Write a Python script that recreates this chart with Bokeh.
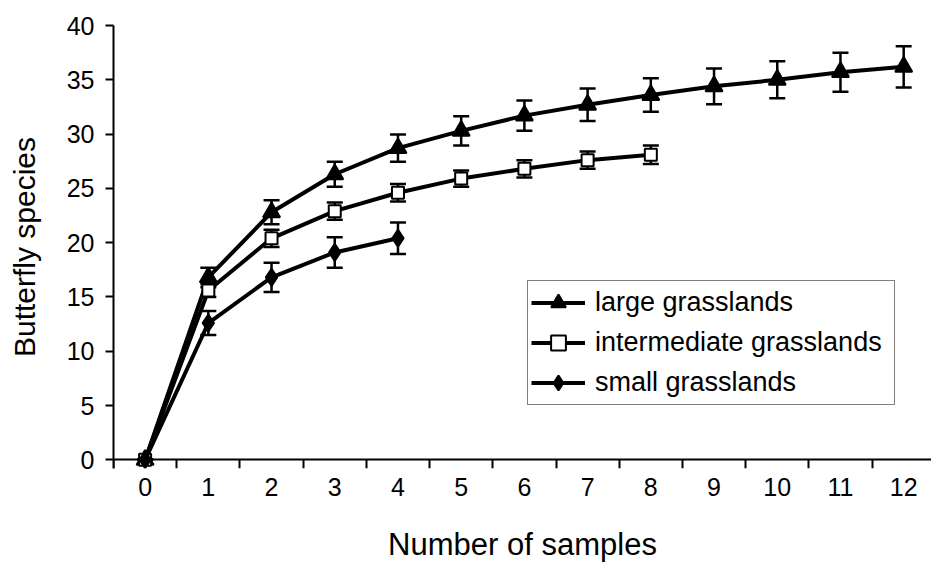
from bokeh.plotting import figure
from bokeh.models import (Range1d, FixedTicker, Legend, LegendItem, Whisker,
                          TeeHead, ColumnDataSource, LinearAxis)
from bokeh.embed import file_html
from bokeh.resources import INLINE

# ---- data ----
samples_large = [0, 1, 2, 3, 4, 5, 6, 7, 8, 9, 10, 11, 12]
large = [0, 16.8, 22.8, 26.3, 28.7, 30.3, 31.7, 32.7, 33.6, 34.4, 35.0, 35.7, 36.2]
large_err = [0, 0.9, 1.1, 1.15, 1.25, 1.35, 1.4, 1.5, 1.55, 1.65, 1.7, 1.8, 1.9]

samples_inter = [0, 1, 2, 3, 4, 5, 6, 7, 8]
inter = [0, 15.6, 20.4, 22.9, 24.6, 25.9, 26.8, 27.6, 28.1]
inter_err = [0, 0.6, 0.8, 0.8, 0.8, 0.75, 0.8, 0.8, 0.85]

samples_small = [0, 1, 2, 3, 4]
small = [0, 12.6, 16.8, 19.1, 20.4]
small_err = [0, 1.1, 1.35, 1.4, 1.45]

x_ticks = list(range(0, 13))
x_tick_marks = [k - 0.5 for k in range(0, 14)]
y_ticks = [0, 5, 10, 15, 20, 25, 30, 35, 40]

labels = ["large grasslands", "intermediate grasslands", "small grasslands"]
x_title = "Number of samples"
y_title = "Butterfly species"

FONT = "Liberation Sans"

p = figure(width=931, height=565, output_backend="svg", toolbar_location=None,
           x_range=Range1d(-0.5, 12.44), y_range=Range1d(-0.8, 40),
           min_border_left=113, min_border_right=0, min_border_top=25,
           min_border_bottom=97)
p.outline_line_color = None
p.xgrid.visible = False
p.ygrid.visible = False
p.background_fill_color = "white"
p.border_fill_color = "white"

# x axis: labels + title (below the frame, no line/ticks)
xa = p.xaxis[0]
xa.ticker = FixedTicker(ticks=x_ticks)
xa.axis_line_color = None
xa.major_tick_line_color = None
xa.minor_tick_line_color = None
xa.major_tick_out = 0
xa.major_tick_in = 0
xa.major_label_text_font = FONT
xa.major_label_text_font_size = "25px"
xa.major_label_text_color = "black"
xa.major_label_standoff = 9
xa.axis_label = x_title
xa.axis_label_text_font = FONT
xa.axis_label_text_font_size = "31px"
xa.axis_label_text_font_style = "normal"
xa.axis_label_text_color = "black"
xa.axis_label_standoff = 28

# x axis line with tick marks between categories, drawn at y = 0
xline = LinearAxis(fixed_location=0,
                   ticker=FixedTicker(ticks=[], minor_ticks=x_tick_marks),
                   major_tick_line_color=None,
                   minor_tick_in=9, minor_tick_out=0,
                   minor_tick_line_width=2, minor_tick_line_color="black",
                   axis_line_width=2, axis_line_color="black",
                   major_label_standoff=0)
p.add_layout(xline, "above")

# y axis
ya = p.yaxis[0]
ya.ticker = FixedTicker(ticks=y_ticks)
ya.minor_tick_line_color = None
ya.major_tick_out = 8
ya.major_tick_in = 0
ya.major_tick_line_width = 2
ya.major_tick_line_color = "black"
ya.axis_line_width = 2
ya.axis_line_color = "black"
ya.major_label_text_font = FONT
ya.major_label_text_font_size = "25px"
ya.major_label_text_color = "black"
ya.major_label_standoff = 11
ya.axis_label = y_title
ya.axis_label_text_font = FONT
ya.axis_label_text_font_size = "30px"
ya.axis_label_text_font_style = "normal"
ya.axis_label_text_color = "black"
ya.axis_label_standoff = 23

series = [
    (samples_large, large, large_err, "triangle", "black", 17),
    (samples_inter, inter, inter_err, "square", "white", 12),
    (samples_small, small, small_err, "diamond", "black", 17),
]

items = []
for (xs, ys, errs, marker, fill, size), lab in zip(series, labels):
    src = ColumnDataSource(dict(x=xs, y=ys,
                                upper=[a + b for a, b in zip(ys, errs)],
                                lower=[a - b for a, b in zip(ys, errs)]))
    w = Whisker(base="x", upper="upper", lower="lower", source=src,
                line_width=2.5, line_color="black", level="underlay",
                upper_head=TeeHead(size=16, line_width=2.5, line_color="black"),
                lower_head=TeeHead(size=16, line_width=2.5, line_color="black"))
    p.add_layout(w)
    ln = p.line("x", "y", source=src, line_width=4, line_color="black")
    sc = p.scatter("x", "y", source=src, marker=marker, size=size,
                   fill_color=fill, line_color="black", line_width=2)
    items.append(LegendItem(label=lab, renderers=[ln, sc]))

legend = Legend(items=items, location=(414, 63), orientation="vertical",
                label_text_font=FONT, label_text_font_size="27px",
                label_text_color="black", glyph_width=54, glyph_height=37,
                label_height=37, label_width=296, spacing=3, padding=3,
                margin=0, label_standoff=10, border_line_color="black",
                border_line_width=1.5, background_fill_color="white",
                background_fill_alpha=1)
p.add_layout(legend, "center")

open("out.html", "w").write(file_html(p, INLINE))
